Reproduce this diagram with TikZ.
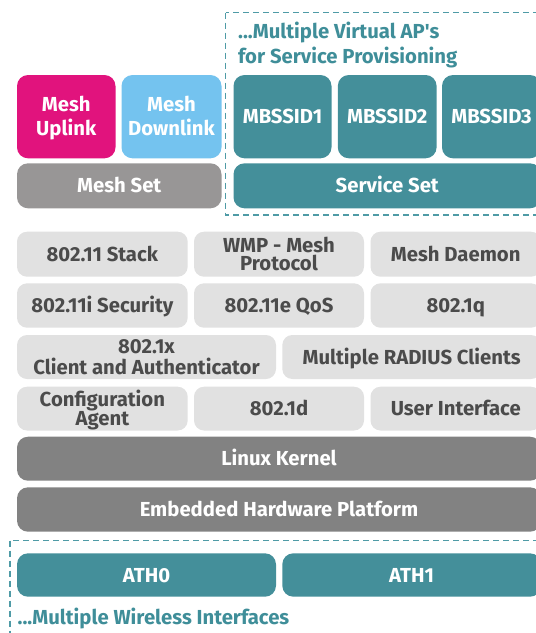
\documentclass[tikz,border=0pt]{standalone}
\usepackage{fontspec}
\setmainfont{Fira Sans}

\definecolor{uplinkmag}{HTML}{E1137D}
\definecolor{downsky}{HTML}{74C3EF}
\definecolor{svcteal}{HTML}{448F9A}
\definecolor{meshgray}{HTML}{989696}
\definecolor{kernelgray}{HTML}{828282}
\definecolor{litegray}{HTML}{E1E1E1}
\definecolor{darktext}{HTML}{4B4B4B}
\definecolor{dashteal}{HTML}{4F9BA6}
\definecolor{headteal}{HTML}{3F8E99}

% a rounded block given by its corners (x1,y1) and (x2,y2), y pointing down
\newcommand\layerbox[7]{%
  \pgfmathsetmacro\lbcx{(#3+#5)/2}\pgfmathsetmacro\lbcy{(#4+#6)/2}%
  \pgfmathsetmacro\lbw{#5-#3}\pgfmathsetmacro\lbh{#6-#4}%
  \node[#1, minimum width=\lbw pt, minimum height=\lbh pt] (#2) at (\lbcx,\lbcy) {#7};}

\begin{document}
\begin{tikzpicture}[x=1pt,y=-1pt,
  blk/.style={rounded corners=11pt, inner sep=0pt, align=center,
    font=\bfseries\fontsize{20.3}{24.6}\selectfont,
    text height=14pt, text depth=0pt},
  solid/.style={blk, fill=#1, text=white},
  lite/.style={blk, fill=litegray, text=darktext, rounded corners=10pt},
  % two stacked lines: the box reaches from the first cap line to the last baseline
  twoline/.style={text height=14pt+#1pt, text depth=0pt,
    font=\bfseries\fontsize{20.3}{#1}\selectfont},
  frame/.style={draw=dashteal, line width=1.3pt, dash pattern=on 6pt off 4pt},
  caption/.style={inner sep=0pt, text=headteal, align=left,
    font=\bfseries\fontsize{20.3}{25}\selectfont}]
\useasboundingbox (0,0) rectangle (536,633);
\clip (0,0) rectangle (536,633);

% dashed groupings
\draw[frame] (225.7,12.7) rectangle (570,215);
\draw[frame] (10,540.5) rectangle (570,680);

% virtual access points
\node[caption, anchor=base west] (vaptext) at (238,63.3)
  {...Multiple Virtual AP\textquotesingle s\\for Service Provisioning};

\layerbox{solid=uplinkmag, twoline=24.6}{uplink}{17}{75}{115.5}{158.3}{Mesh\\Uplink}
\layerbox{solid=downsky, twoline=24.6}{downlink}{121.5}{75}{221.5}{158.3}{Mesh\\Downlink}
\layerbox{solid=svcteal}{mb1}{233.5}{75}{331.5}{158.3}{MBSSID1}
\layerbox{solid=svcteal}{mb2}{337.8}{75}{436.6}{158.3}{MBSSID2}
\layerbox{solid=svcteal}{mb3}{442}{75}{541}{158.3}{MBSSID3}
\layerbox{solid=meshgray}{meshset}{17}{163.3}{221.5}{208.3}{Mesh Set}
\layerbox{solid=svcteal}{svcset}{233.5}{163.3}{541}{208.3}{Service Set}

% protocol stack
\layerbox{lite}{stack}{17}{231.7}{187.7}{276.7}{802.11 Stack}
\layerbox{lite, twoline=18.3}{wmp}{194}{231.7}{364}{276.7}{WMP - Mesh\\Protocol}
\layerbox{lite}{daemon}{370.5}{231.7}{541}{276.7}{Mesh Daemon}

\layerbox{lite}{sec}{17}{283.3}{187.7}{327.7}{802.11i Security}
\layerbox{lite}{qos}{194}{283.3}{364}{327.7}{802.11e QoS}
\layerbox{lite}{vlan}{370.5}{283.3}{541}{327.7}{802.1q}

\layerbox{lite, twoline=21}{auth}{17}{335}{276}{379}{802.1x\\Client and Authenticator}
\layerbox{lite}{radius}{282.3}{335}{541}{379}{Multiple RADIUS Clients}

\layerbox{lite, twoline=19}{config}{17}{386.7}{187.7}{430.5}{Configuration\\Agent}
\layerbox{lite}{bridge}{194}{386.7}{364}{430.5}{802.1d}
\layerbox{lite}{ui}{370.5}{386.7}{541}{430.5}{User Interface}

\layerbox{solid=kernelgray}{kernel}{17}{436.7}{541}{480.7}{Linux Kernel}
\layerbox{solid=kernelgray}{hw}{17}{487.3}{541}{531.7}{Embedded Hardware Platform}

% wireless interfaces
\layerbox{solid=svcteal}{ath0}{17}{553.3}{276}{596.7}{ATH0}
\layerbox{solid=svcteal}{ath1}{282.3}{553.3}{541}{596.7}{ATH1}
\node[caption, anchor=base west] (ifacetext) at (17.5,624.3) {...Multiple Wireless Interfaces};
\end{tikzpicture}
\end{document}
